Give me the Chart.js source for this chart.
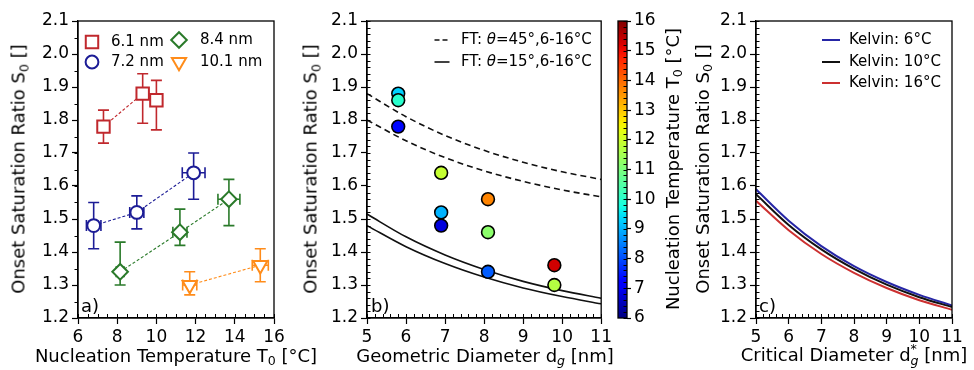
<!DOCTYPE html>
<html lang="en">
<head>
<meta charset="UTF-8">
<title>Onset saturation ratio</title>
<script src="https://cdn.jsdelivr.net/npm/chart.js@4"></script>
<style>
  body { margin: 0; background: #fff; }
  #fig { position: relative; width: 974px; height: 370px; font-family: 'DejaVu Sans', sans-serif; color: #000; overflow: hidden; }
  .box { position: absolute; top: 0; height: 370px; }
  .lbl { position: absolute; white-space: nowrap; font-size: 18px; transform: translate(-50%, -50%); z-index: 5; }
  .rot { transform: translate(-50%, -50%) rotate(-90deg); }
  .tag { position: absolute; font-size: 18px; transform: translate(0, -50%); z-index: 5; }
  sub { font-size: 70%; vertical-align: -0.3em; line-height: 0; }
  .ss { display: inline-block; vertical-align: -0.35em; font-size: 70%; line-height: 0.95; text-align: left; }
  .ss span { display: block; }
</style>
</head>
<body>
<div id="fig">
  <div class="box" style="left:0;width:290px"><canvas id="chartA"></canvas></div>
  <div class="box" style="left:290px;width:325px"><canvas id="chartB"></canvas></div>
  <div class="box" style="left:615px;width:60px"><canvas id="chartBar"></canvas></div>
  <div class="box" style="left:675px;width:299px"><canvas id="chartC"></canvas></div>

  <div class="lbl rot" style="left:18px;top:169px">Onset Saturation Ratio S<sub>0</sub> []</div>
  <div class="lbl" style="left:176px;top:355px">Nucleation Temperature T<sub>0</sub> [°C]</div>
  <div class="lbl rot" style="left:310px;top:169px">Onset Saturation Ratio S<sub>0</sub> []</div>
  <div class="lbl" style="left:485px;top:355px">Geometric Diameter d<sub><i>g</i></sub> [nm]</div>
  <div class="lbl rot" style="left:672px;top:169px">Nucleation Temperature T<sub>0</sub> [°C]</div>
  <div class="lbl rot" style="left:702px;top:169px">Onset Saturation Ratio S<sub>0</sub> []</div>
  <div class="lbl" style="left:854px;top:355px">Critical Diameter d<span class="ss"><span>*</span><span><i>g</i></span></span> [nm]</div>
  <div class="tag" style="left:81px;top:305px">a)</div>
  <div class="tag" style="left:371px;top:305px">b)</div>
  <div class="tag" style="left:759px;top:305px">c)</div>
</div>

<script>
// ---- data ----
const sizes = ['6.1 nm', '7.2 nm', '8.4 nm', '10.1 nm']
const geoDiam = [5.8, 6.9, 8.1, 9.8]

// panel a: nucleation temperature T0 (x), onset saturation S0 (y) and error bars
const temp61 = [7.3, 9.3, 10.0]
const sat61 = [1.78, 1.88, 1.86]
const lo61 = [0.05, 0.09, 0.09]
const hi61 = [0.05, 0.06, 0.06]
const terr61 = [0.2, 0.2, 0.2]

const temp72 = [6.8, 9.0, 11.9]
const sat72 = [1.48, 1.52, 1.64]
const lo72 = [0.07, 0.05, 0.08]
const hi72 = [0.07, 0.05, 0.06]
const terr72 = [0.37, 0.36, 0.58]

const temp84 = [8.15, 11.2, 13.7]
const sat84 = [1.34, 1.46, 1.56]
const lo84 = [0.04, 0.04, 0.08]
const hi84 = [0.09, 0.07, 0.06]
const terr84 = [0.2, 0.36, 0.56]

const temp101 = [11.7, 15.3]
const sat101 = [1.30, 1.36]
const lo101 = [0.03, 0.05]
const hi101 = [0.04, 0.05]
const terr101 = [0.36, 0.41]

// panel b: fletcher theory curves
const dCurve = [5, 6, 7, 8, 9, 10, 11]
const ft45at6 = [1.88, 1.810, 1.753, 1.708, 1.672, 1.643, 1.620]
const ft45at16 = [1.80, 1.737, 1.686, 1.646, 1.614, 1.588, 1.567]
const ft15at6 = [1.515, 1.446, 1.391, 1.347, 1.311, 1.283, 1.260]
const ft15at16 = [1.48, 1.416, 1.365, 1.324, 1.291, 1.265, 1.243]

// panel c: kelvin curves
const dKelvin = [5, 6, 7, 8, 9, 10, 11]
const kelvin6 = [1.59, 1.495, 1.418, 1.357, 1.309, 1.270, 1.238]
const kelvin10 = [1.575, 1.482, 1.408, 1.349, 1.301, 1.263, 1.233]
const kelvin16 = [1.555, 1.466, 1.394, 1.337, 1.291, 1.254, 1.225]

const yTicks = [1.2, 2.1, 0.1]
const tempRange = [6, 16]

// ---- helpers ----
Chart.defaults.font.family = 'DejaVu Sans'
Chart.defaults.color = '#000'

const xy = (xs, ys) => xs.map((v, i) => ({ x: v, y: ys[i] }))

function jet(t) {
  t = Math.min(1, Math.max(0, t))
  const seg = pts => {
    for (let i = 1; i < pts.length; i++) {
      if (t <= pts[i][0]) {
        const [x0, y0] = pts[i - 1], [x1, y1] = pts[i]
        return y0 + (y1 - y0) * (t - x0) / (x1 - x0)
      }
    }
    return pts[pts.length - 1][1]
  }
  const r = seg([[0, 0], [0.35, 0], [0.66, 1], [0.89, 1], [1, 0.5]])
  const g = seg([[0, 0], [0.125, 0], [0.375, 1], [0.64, 1], [0.91, 0], [1, 0]])
  const b = seg([[0, 0.5], [0.11, 1], [0.34, 1], [0.65, 0], [1, 0]])
  return `rgb(${Math.round(r * 255)},${Math.round(g * 255)},${Math.round(b * 255)})`
}
const tempColor = t => jet((t - tempRange[0]) / (tempRange[1] - tempRange[0]))

function axis(min, max, step, dec, extra) {
  return Object.assign({
    type: 'linear', min: min, max: max,
    grid: { drawOnChartArea: false, drawTicks: true, tickLength: 6, tickWidth: 1.2, tickColor: '#000' },
    border: { display: true, color: '#000', width: 1.3 },
    ticks: { stepSize: step, color: '#000', font: { size: 17 }, padding: 3, maxRotation: 0, autoSkip: false,
      callback: v => Number(v).toFixed(dec) }
  }, extra || {})
}

// frame + minor ticks
const frame = {
  id: 'frame',
  afterDraw(chart, args, o) {
    const { ctx, chartArea: a, scales } = chart
    ctx.save()
    ctx.strokeStyle = '#000'
    ctx.lineWidth = 1.3
    ctx.strokeRect(a.left, a.top, a.right - a.left, a.bottom - a.top)
    ctx.lineWidth = 1
    const xs = scales.x, ys = scales.y
    if (o.xMinor && xs.options.display !== false) {
      const n = Math.round((xs.max - xs.min) / o.xMinor)
      for (let i = 0; i <= n; i++) {
        const px = Math.round(xs.getPixelForValue(xs.min + i * o.xMinor)) + 0.5
        ctx.beginPath(); ctx.moveTo(px, a.bottom); ctx.lineTo(px, a.bottom + (o.xIn ? -4 : 4)); ctx.stroke()
      }
    }
    if (o.yMinor) {
      const n = Math.round((ys.max - ys.min) / o.yMinor)
      const edge = o.yRight ? a.right : a.left
      const dir = (o.yIn ? 1 : -1) * (o.yRight ? -1 : 1)
      for (let i = 0; i <= n; i++) {
        const py = Math.round(ys.getPixelForValue(ys.min + i * o.yMinor)) + 0.5
        ctx.beginPath(); ctx.moveTo(edge, py); ctx.lineTo(edge + dir * 3.5, py); ctx.stroke()
      }
    }
    ctx.restore()
  }
}

const errorBars = {
  id: 'errorBars',
  beforeDatasetsDraw(chart) {
    const { ctx, scales: { x, y } } = chart
    ctx.save()
    chart.data.datasets.forEach(ds => {
      if (!ds.errLo) return
      ctx.strokeStyle = ds.borderColor
      ctx.lineWidth = 1.6
      ds.data.forEach((p, i) => {
        const px = x.getPixelForValue(p.x), py = y.getPixelForValue(p.y)
        const top = y.getPixelForValue(p.y + ds.errHi[i]), bot = y.getPixelForValue(p.y - ds.errLo[i])
        const l = x.getPixelForValue(p.x - ds.errX[i]), r = x.getPixelForValue(p.x + ds.errX[i])
        const c = 5.5
        ctx.beginPath()
        ctx.moveTo(px, top); ctx.lineTo(px, bot)
        ctx.moveTo(px - c, top); ctx.lineTo(px + c, top)
        ctx.moveTo(px - c, bot); ctx.lineTo(px + c, bot)
        ctx.moveTo(l, py); ctx.lineTo(r, py)
        ctx.moveTo(l, py - c); ctx.lineTo(l, py + c)
        ctx.moveTo(r, py - c); ctx.lineTo(r, py + c)
        ctx.stroke()
      })
    })
    ctx.restore()
  }
}

// legend drawn inside the axes
const key = {
  id: 'key',
  afterDraw(chart, args, o) {
    if (!o.items) return
    const { ctx, chartArea: a } = chart
    ctx.save()
    ctx.textBaseline = 'middle'
    o.items.forEach(it => {
      const mx = a.left + it.mx, my = a.top + it.my
      if (it.point) {
        ctx.fillStyle = '#fff'
        ctx.strokeStyle = it.point.color
        ctx.lineWidth = 2
        Chart.helpers.drawPoint(ctx, { pointStyle: it.point.style, radius: it.point.r, rotation: it.point.rot || 0, borderWidth: 2 }, mx, my)
      } else {
        ctx.strokeStyle = it.line.color
        ctx.lineWidth = it.line.width
        ctx.setLineDash(it.line.dash || [])
        ctx.beginPath(); ctx.moveTo(mx - it.line.len / 2, my); ctx.lineTo(mx + it.line.len / 2, my); ctx.stroke()
        ctx.setLineDash([])
      }
      let tx = a.left + it.tx
      ctx.fillStyle = '#000'
      it.text.forEach(part => {
        ctx.font = (part.it ? 'italic ' : '') + '15px "DejaVu Sans"'
        ctx.fillText(part.t, tx, my)
        tx += ctx.measureText(part.t).width
      })
    })
    ctx.restore()
  }
}

function fixAxis(w) { return sc => { sc.width = w } }
function fixHeight(h) { return sc => { sc.height = h } }

// ---- panel a ----
const seriesA = [
  { label: sizes[0], t: temp61, s: sat61, lo: lo61, hi: hi61, te: terr61, color: '#c0282d', style: 'rect', r: 8.8, rot: 0 },
  { label: sizes[1], t: temp72, s: sat72, lo: lo72, hi: hi72, te: terr72, color: '#1c1c96', style: 'circle', r: 6.4, rot: 0 },
  { label: sizes[2], t: temp84, s: sat84, lo: lo84, hi: hi84, te: terr84, color: '#2a7a2a', style: 'rectRot', r: 7.8, rot: 0 },
  { label: sizes[3], t: temp101, s: sat101, lo: lo101, hi: hi101, te: terr101, color: '#ff8c1a', style: 'triangle', r: 8.2, rot: 180 }
]

new Chart(document.getElementById('chartA'), {
  type: 'scatter',
  data: {
    datasets: seriesA.map(sr => ({
      label: sr.label,
      data: xy(sr.t, sr.s),
      showLine: true,
      borderColor: sr.color,
      borderWidth: 1.1,
      borderDash: [3, 2],
      pointStyle: sr.style,
      pointRadius: sr.r,
      rotation: sr.rot,
      pointBorderWidth: 2,
      pointBackgroundColor: '#fff',
      pointBorderColor: sr.color,
      errLo: sr.lo, errHi: sr.hi, errX: sr.te
    }))
  },
  options: {
    responsive: true, maintainAspectRatio: false, animation: false, events: [],
    layout: { padding: { left: 0, top: 21, right: 16, bottom: 0 } },
    scales: {
      x: axis(6, 16, 2, 0, { afterFit: fixHeight(52) }),
      y: axis(yTicks[0], yTicks[1], yTicks[2], 1, { afterFit: fixAxis(78) })
    },
    plugins: {
      legend: { display: false }, tooltip: { enabled: false },
      frame: { xMinor: 0.5, xIn: true, yMinor: 0.05, yIn: false },
      key: { items: [
        { mx: 14, my: 21, point: { style: 'rect', r: 8.8, color: seriesA[0].color }, tx: 33, text: [{ t: sizes[0] }] },
        { mx: 14, my: 41, point: { style: 'circle', r: 6.4, color: seriesA[1].color }, tx: 33, text: [{ t: sizes[1] }] },
        { mx: 101, my: 19, point: { style: 'rectRot', r: 7.8, color: seriesA[2].color }, tx: 122, text: [{ t: sizes[2] }] },
        { mx: 101, my: 41, point: { style: 'triangle', r: 8.2, rot: 180, color: seriesA[3].color }, tx: 122, text: [{ t: sizes[3] }] }
      ] }
    }
  },
  plugins: [errorBars, frame, key]
})

// ---- panel b ----
const pointsB = seriesA.map((sr, k) => ({
  label: sr.label,
  data: sr.s.map(v => ({ x: geoDiam[k], y: v })),
  pointRadius: 6.4,
  pointBorderWidth: 1.6,
  pointBorderColor: '#000',
  pointBackgroundColor: sr.t.map(tempColor),
  showLine: false
}))
const curve = (ys, dash) => ({
  data: xy(dCurve, ys), showLine: true, pointRadius: 0,
  borderColor: '#111', borderWidth: 1.6, borderDash: dash, cubicInterpolationMode: 'monotone'
})

new Chart(document.getElementById('chartB'), {
  type: 'scatter',
  data: {
    datasets: pointsB.reverse().concat([
      curve(ft45at6, [6, 4]), curve(ft45at16, [6, 4]),
      curve(ft15at6, []), curve(ft15at16, [])
    ])
  },
  options: {
    responsive: true, maintainAspectRatio: false, animation: false, events: [],
    layout: { padding: { left: 0, top: 21, right: 12, bottom: 0 } },
    scales: {
      x: axis(5, 11, 1, 0, { afterFit: fixHeight(52) }),
      y: axis(yTicks[0], yTicks[1], yTicks[2], 1, { afterFit: fixAxis(77) })
    },
    plugins: {
      legend: { display: false }, tooltip: { enabled: false },
      frame: { xMinor: 0.2, xIn: true, yMinor: 0.02, yIn: true },
      key: { items: [
        { mx: 75, my: 19, line: { color: '#111', width: 1.6, dash: [5, 3], len: 15 }, tx: 94, text: [{ t: 'FT: ' }, { t: 'θ', it: true }, { t: '=45°,6-16°C' }] },
        { mx: 75, my: 41, line: { color: '#111', width: 1.6, len: 15 }, tx: 94, text: [{ t: 'FT: ' }, { t: 'θ', it: true }, { t: '=15°,6-16°C' }] }
      ] }
    }
  },
  plugins: [frame, key]
})

// ---- colour bar ----
const colorBar = {
  id: 'colorBar',
  beforeDatasetsDraw(chart) {
    const { ctx, chartArea: a, scales: { y } } = chart
    const grad = ctx.createLinearGradient(0, y.getPixelForValue(tempRange[0]), 0, y.getPixelForValue(tempRange[1]))
    for (let i = 0; i <= 40; i++) grad.addColorStop(i / 40, jet(i / 40))
    ctx.save()
    ctx.fillStyle = grad
    ctx.fillRect(a.left, a.top, a.right - a.left, a.bottom - a.top)
    ctx.restore()
  }
}

new Chart(document.getElementById('chartBar'), {
  type: 'scatter',
  data: { datasets: [] },
  options: {
    responsive: true, maintainAspectRatio: false, animation: false, events: [],
    layout: { padding: { left: 3, top: 21, right: 0, bottom: 52 } },
    scales: {
      x: { type: 'linear', min: 0, max: 1, display: false },
      y: axis(tempRange[0], tempRange[1], 1, 0, { position: 'right', afterFit: fixAxis(48),
        grid: { drawOnChartArea: false, drawTicks: true, tickLength: 4, tickWidth: 1.2, tickColor: '#000' },
        border: { display: false } })
    },
    plugins: {
      legend: { display: false }, tooltip: { enabled: false },
      frame: { yMinor: 0.2, yIn: true, yRight: true }
    }
  },
  plugins: [colorBar, frame]
})

// ---- panel c ----
const kelvinLine = (ys, color) => ({
  data: xy(dKelvin, ys), showLine: true, pointRadius: 0,
  borderColor: color, borderWidth: 2, cubicInterpolationMode: 'monotone'
})

new Chart(document.getElementById('chartC'), {
  type: 'scatter',
  data: {
    datasets: [
      kelvinLine(kelvin16, '#cc3030'),
      kelvinLine(kelvin10, '#111111'),
      kelvinLine(kelvin6, '#2626a6')
    ]
  },
  options: {
    responsive: true, maintainAspectRatio: false, animation: false, events: [],
    layout: { padding: { left: 0, top: 21, right: 22, bottom: 0 } },
    scales: {
      x: axis(5, 11, 1, 0, { afterFit: fixHeight(52) }),
      y: axis(yTicks[0], yTicks[1], yTicks[2], 1, { afterFit: fixAxis(81) })
    },
    plugins: {
      legend: { display: false }, tooltip: { enabled: false },
      frame: { xMinor: 0.2, xIn: true, yMinor: 0.02, yIn: true },
      key: { items: [
        { mx: 75, my: 19, line: { color: '#2626a6', width: 2, len: 18 }, tx: 93, text: [{ t: 'Kelvin: 6°C' }] },
        { mx: 75, my: 41, line: { color: '#111111', width: 2, len: 18 }, tx: 93, text: [{ t: 'Kelvin: 10°C' }] },
        { mx: 75, my: 62, line: { color: '#cc3030', width: 2, len: 18 }, tx: 93, text: [{ t: 'Kelvin: 16°C' }] }
      ] }
    }
  },
  plugins: [frame, key]
})
</script>
</body>
</html>
